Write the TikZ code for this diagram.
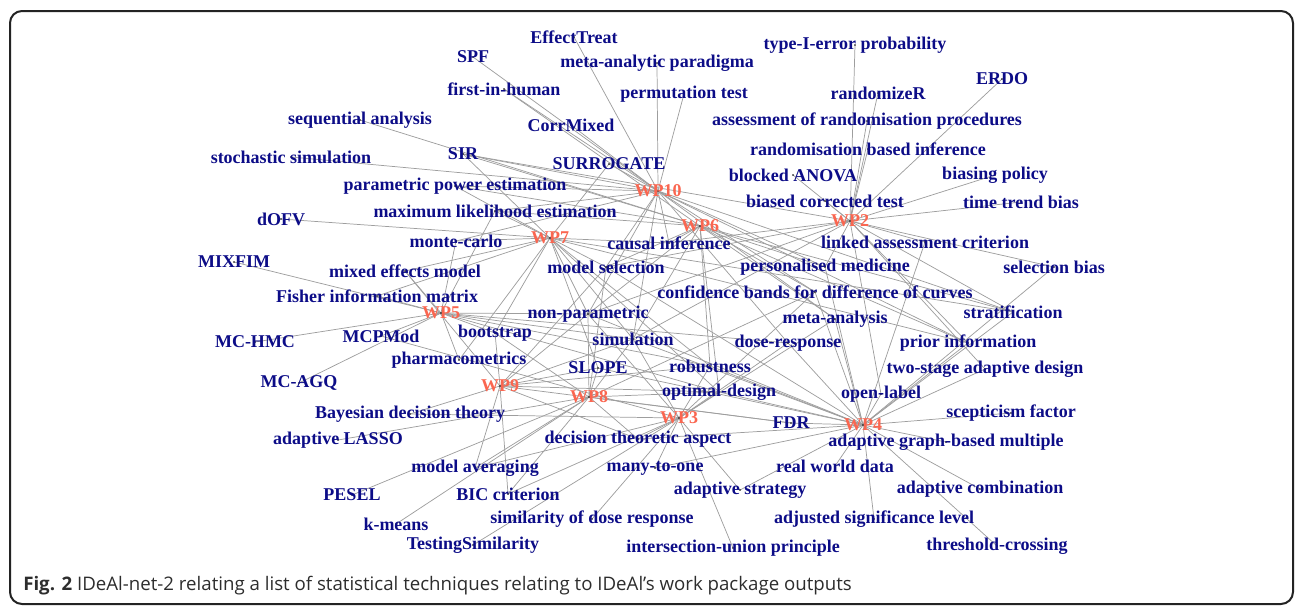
\documentclass[tikz,border=0pt]{standalone}
\usepackage{fontspec}
\setmainfont{Liberation Serif}
\newfontfamily\capfont{Open Sans}
\usetikzlibrary{backgrounds}
\definecolor{lab}{RGB}{12,12,135}
\definecolor{wpc}{RGB}{250,102,80}
\definecolor{edg}{RGB}{158,158,158}
\definecolor{capgray}{RGB}{45,45,45}
\definecolor{framec}{RGB}{35,35,35}
\begin{document}
\begin{tikzpicture}[x=0.75pt,y=-0.75pt,
  term/.style={text=lab,font=\fontsize{13.5}{15}\selectfont\bfseries,inner sep=0pt},
  wp/.style={text=wpc,font=\fontsize{13.5}{15}\selectfont\bfseries,inner sep=0pt},
  link/.style={draw=edg,line width=0.55pt},
  vdot/.style={fill=black}]
\useasboundingbox (0,0) rectangle (1295,607);
\draw[framec,line width=1.5pt,rounded corners=9pt] (10,11) rectangle (1293,604);
% work packages
\node[wp] (wp10) at (658,191) {WP10};
\node[wp] (wp6) at (700,226) {WP6};
\node[wp] (wp2) at (850,221) {WP2};
\node[wp] (wp7) at (550,238) {WP7};
\node[wp] (wp5) at (441,313) {WP5};
\node[wp] (wp9) at (500,386) {WP9};
\node[wp] (wp8) at (589,397) {WP8};
\node[wp] (wp3) at (679,418) {WP3};
\node[wp] (wp4) at (863,425) {WP4};
% terms
\node[term] (eff) at (574,37) {EffectTreat};
\node[term] (spf) at (473,57) {SPF};
\node[term] (map) at (657,63) {meta-analytic paradigma};
\node[term] (t1e) at (855,45) {type-I-error probability};
\node[term] (erdo) at (1002,79) {ERDO};
\node[term] (fih) at (504,89) {first-in-human};
\node[term] (perm) at (684,94) {permutation test};
\node[term] (rand) at (878,93) {randomizeR};
\node[term] (seq) at (360,120) {sequential analysis};
\node[term] (corr) at (571,125) {CorrMixed};
\node[term] (arp) at (867,121) {assessment of randomisation procedures};
\node[term] (stoch) at (291,157) {stochastic simulation};
\node[term] (sir) at (463,154) {SIR};
\node[term] (sur) at (609,164) {SURROGATE};
\node[term] (rbi) at (868,149) {randomisation based inference};
\node[term] (ppe) at (455,186) {parametric power estimation};
\node[term] (banova) at (793,175) {blocked ANOVA};
\node[term] (bpol) at (995,175) {biasing policy};
\node[term] (mle) at (495,211) {maximum likelihood estimation};
\node[term] (bct) at (825,201) {biased corrected test};
\node[term] (ttb) at (1021,202) {time trend bias};
\node[term] (dofv) at (281,219) {dOFV};
\node[term] (mc) at (456,241) {monte-carlo};
\node[term] (ci) at (669,243) {causal inference};
\node[term] (lac) at (925,242) {linked assessment criterion};
\node[term] (mixfim) at (234,262) {MIXFIM};
\node[term] (mem) at (405,271) {mixed effects model};
\node[term] (ms) at (606,267) {model selection};
\node[term] (pm) at (825,267) {personalised medicine};
\node[term] (sb) at (1054,267) {selection bias};
\node[term] (fim) at (377,296) {Fisher information matrix};
\node[term] (cb) at (815,292) {confidence bands for difference of curves};
\node[term] (np) at (588,314) {non-parametric};
\node[term] (ma) at (835,319) {meta-analysis};
\node[term] (strat) at (1013,312) {stratification};
\node[term] (hmc) at (255,342) {MC-HMC};
\node[term] (mcp) at (381,336) {MCPMod};
\node[term] (boot) at (495,333) {bootstrap};
\node[term] (sim) at (633,339) {simulation};
\node[term] (dr) at (788,343) {dose-response};
\node[term] (prior) at (968,343) {prior information};
\node[term] (pmx) at (459,360) {pharmacometrics};
\node[term] (slope) at (598,368) {SLOPE};
\node[term] (rob) at (710,366) {robustness};
\node[term] (tsad) at (985,369) {two-stage adaptive design};
\node[term] (agq) at (299,383) {MC-AGQ};
\node[term] (od) at (719,392) {optimal-design};
\node[term] (ol) at (881,394) {open-label};
\node[term] (bdt) at (410,414) {Bayesian decision theory};
\node[term] (scep) at (1011,413) {scepticism factor};
\node[term] (fdr) at (791,423) {FDR};
\node[term] (alasso) at (338,440) {adaptive LASSO};
\node[term] (dta) at (638,439) {decision theoretic aspect};
\node[term] (agbm) at (946,442) {adaptive graph-based multiple};
\node[term] (mavg) at (475,468) {model averaging};
\node[term] (m2o) at (655,468) {many-to-one};
\node[term] (rwd) at (835,466) {real world data};
\node[term] (pesel) at (352,495) {PESEL};
\node[term] (bic) at (508,494) {BIC criterion};
\node[term] (astr) at (740,490) {adaptive strategy};
\node[term] (acomb) at (980,489) {adaptive combination};
\node[term] (kmeans) at (396,524) {k-means};
\node[term] (sdr) at (592,519) {similarity of dose response};
\node[term] (asl) at (874,519) {adjusted significance level};
\node[term] (tsim) at (473,545) {TestingSimilarity};
\node[term] (iup) at (733,548) {intersection-union principle};
\node[term] (thr) at (997,546) {threshold-crossing};
% caption
\node[anchor=base west,inner sep=0pt,text=capgray,font=\capfont\fontsize{14}{16}\selectfont] (cap) at (23,590)
  {\textbf{Fig. 2} IDeAl-net-2 relating a list of statistical techniques relating to IDeAl’s work package outputs};
% edges
\begin{pgfonlayer}{background}
\foreach \t in {eff,spf,map,perm,fih,corr,sir,sur,ppe,mle,mc,ci,ms,np,sim,pm,ma,cb,strat,prior,stoch,dr}
  \draw[link] (wp10.center) -- (\t.center);
\foreach \t in {fih,sir,seq,ci,ms,np,sim,pm,cb,rob,strat,prior,ma,od,mle,ppe}
  \draw[link] (wp6.center) -- (\t.center);
\foreach \t in {t1e,rand,erdo,arp,rbi,banova,bpol,bct,ttb,lac,sb,strat,pm,sim,ol,prior,tsad,sir,ci,np,ms}
  \draw[link] (wp2.center) -- (\t.center);
\foreach \t in {sir,sur,ppe,mle,dofv,mc,mem,fim,ms,np,boot,sim,pmx,ci,od,rob,strat,prior,slope}
  \draw[link] (wp7.center) -- (\t.center);
\foreach \t in {mixfim,hmc,agq,mcp,fim,mem,mc,boot,pmx,od,dr,sim,mle,np,rob}
  \draw[link] (wp5.center) -- (\t.center);
\foreach \t in {bdt,mem,ms,slope,od,rob,fdr,dta,mavg,bic,boot,np,sim}
  \draw[link] (wp9.center) -- (\t.center);
\foreach \t in {slope,ms,kmeans,pesel,bic,mavg,alasso,fdr,boot,np,sim,cb,od,dta}
  \draw[link] (wp8.center) -- (\t.center);
\foreach \t in {dta,m2o,sdr,tsim,iup,mcp,dr,od,rob,cb,astr,bdt,bic,mavg,sim,ma,np}
  \draw[link] (wp3.center) -- (\t.center);
\foreach \t in {ol,scep,agbm,acomb,thr,asl,rwd,astr,m2o,fdr,tsad,prior,strat,sb,lac,ma,pm,dr,rob,od,sim,cb,np,ms,dta,slope}
  \draw[link] (wp4.center) -- (\t.center);
\foreach \t in {wp10,wp6,wp2,wp7,wp5,wp9,wp8,wp3,wp4,eff,spf,map,t1e,erdo,fih,perm,rand,seq,corr,arp,stoch,sir,sur,rbi,ppe,banova,bpol,mle,bct,ttb,dofv,mc,ci,lac,mixfim,mem,ms,pm,sb,fim,cb,np,ma,strat,hmc,mcp,boot,sim,dr,prior,pmx,slope,rob,tsad,agq,od,ol,bdt,scep,fdr,alasso,dta,agbm,mavg,m2o,rwd,pesel,bic,astr,acomb,kmeans,sdr,asl,tsim,iup,thr}
  \fill[vdot] (\t.center) circle (0.9);
\end{pgfonlayer}
\end{tikzpicture}
\end{document}
